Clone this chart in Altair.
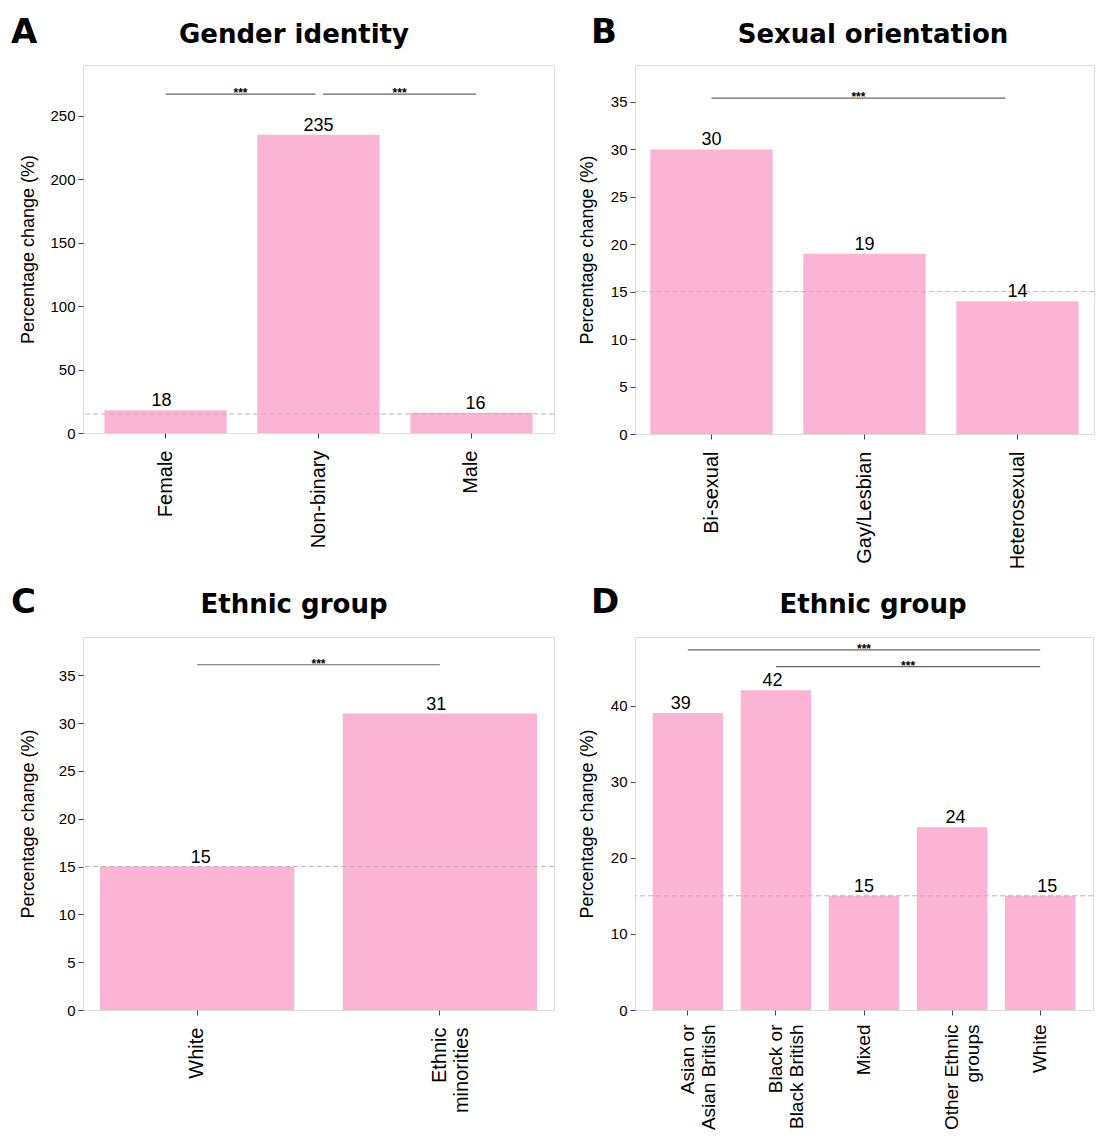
import altair as alt
import pandas as pd

PINK = "#fbb4d4"
FRAME = "#6e6e6e"
LABEL_FONT = "Liberation Sans"
TITLE_FONT = "DejaVu Sans"
REFERENCE = 15

# ---------------- data ----------------
a_title = "Gender identity"
a_cats = ["Female", "Non-binary", "Male"]
a_vals = [18, 235, 16]
a_br_start = [0.0, 1.03]
a_br_end = [0.98, 2.03]
a_br_y = [267, 267]
a_ticks = [0, 50, 100, 150, 200, 250]
a_ymax = 290

b_title = "Sexual orientation"
b_cats = ["Bi-sexual", "Gay/Lesbian", "Heterosexual"]
b_vals = [30, 19, 14]
b_br_start = [0.0]
b_br_end = [1.92]
b_br_y = [35.4]
b_ticks = [0, 5, 10, 15, 20, 25, 30, 35]
b_ymax = 38.9

c_title = "Ethnic group"
c_cats = ["White", "Ethnic\nminorities"]
c_vals = [15, 31]
c_br_start = [0.0]
c_br_end = [1.0]
c_br_y = [36.1]
c_ticks = [0, 5, 10, 15, 20, 25, 30, 35]
c_ymax = 39.0

d_title = "Ethnic group"
d_cats = ["Asian or\nAsian British", "Black or\nBlack British", "Mixed",
          "Other Ethnic\ngroups", "White"]
d_vals = [39, 42, 15, 24, 15]
d_br_start = [0.0, 1.0]
d_br_end = [4.0, 4.0]
d_br_y = [47.3, 45.1]
d_ticks = [0, 10, 20, 30, 40]
d_ymax = 49.0


def panel(letter, title, cats, vals, br_start, br_end, br_y, ticks, ymax,
          width, height, pad_outer, title_cx, head_y, letter_dx, extent,
          xfont=20, lab_pad=12):
    n = len(cats)
    bars_df = pd.DataFrame({"cat": cats, "val": vals})
    br_df = pd.DataFrame({"x1": br_start, "x2": br_end, "y": br_y})
    br_df["xm"] = (br_df["x1"] + br_df["x2"]) / 2
    br_df["stars"] = "***"
    ref_df = pd.DataFrame({"ref": [REFERENCE]})
    head_df = pd.DataFrame({"letter": [letter], "title": [title]})

    yscale = alt.Scale(domain=[0, ymax], nice=False, zero=True)
    band = alt.Scale(paddingInner=0.2, paddingOuter=pad_outer)
    lo = -(pad_outer + 0.4)
    hi = n - 1 + pad_outer + 0.4
    lin = alt.Scale(domain=[lo, hi], nice=False, zero=False)

    xaxis = alt.Axis(title=None, labelAngle=-90, labelFontSize=xfont,
                     labelFont=LABEL_FONT, labelColor="black",
                     labelExpr="split(datum.label, '\\n')",
                     labelLineHeight=xfont + 2,
                     tickSize=5, tickColor="#444", domain=False, grid=False,
                     labelPadding=lab_pad)
    yaxis = alt.Axis(title="Percentage change (%)", values=ticks, grid=False,
                     domain=False, labelFontSize=15, labelFont=LABEL_FONT,
                     labelColor="black", tickColor="#444", tickSize=5,
                     labelPadding=3, titleFont=LABEL_FONT, titleFontSize=18,
                     titleFontWeight="normal", titleColor="black",
                     titlePadding=5, minExtent=extent, maxExtent=extent)

    bars = alt.Chart(bars_df).mark_bar(color=PINK).encode(
        x=alt.X("cat:N", sort=cats, scale=band, axis=xaxis),
        y=alt.Y("val:Q", scale=yscale, axis=yaxis),
    )
    ref = alt.Chart(ref_df).mark_rule(
        color="#b8b8b8", strokeDash=[5, 3], strokeWidth=1
    ).encode(y=alt.Y("ref:Q", scale=yscale))
    labels = alt.Chart(bars_df).mark_text(
        font=LABEL_FONT, fontSize=18, color="black", baseline="alphabetic", dy=-4
    ).encode(
        x=alt.X("cat:N", sort=cats, scale=band, axis=None),
        y=alt.Y("val:Q", scale=yscale),
        text=alt.Text("val:Q"),
    )
    rules = alt.Chart(br_df).mark_rule(color="#666666", strokeWidth=1.2).encode(
        x=alt.X("x1:Q", scale=lin, axis=None),
        x2="x2:Q",
        y=alt.Y("y:Q", scale=yscale),
    )
    stars = alt.Chart(br_df).mark_text(
        font=LABEL_FONT, fontSize=12, fontWeight="bold", color="black",
        baseline="alphabetic", dy=3
    ).encode(
        x=alt.X("xm:Q", scale=lin, axis=None),
        y=alt.Y("y:Q", scale=yscale),
        text="stars:N",
    )
    let = alt.Chart(head_df).mark_text(
        font=TITLE_FONT, fontSize=34, fontWeight="bold", color="black",
        align="left", baseline="alphabetic"
    ).encode(x=alt.value(letter_dx), y=alt.value(head_y), text="letter:N")
    ttl = alt.Chart(head_df).mark_text(
        font=TITLE_FONT, fontSize=26, fontWeight="bold", color="black",
        align="center", baseline="alphabetic"
    ).encode(x=alt.value(title_cx), y=alt.value(head_y), text="title:N")

    return alt.layer(bars, ref, labels, rules, stars, let, ttl).resolve_scale(
        x="independent"
    ).properties(width=width, height=height)


A = panel("A", a_title, a_cats, a_vals, a_br_start, a_br_end, a_br_y, a_ticks,
          a_ymax, 471, 368, 0.14, 211, -22, -72, 41)
B = panel("B", b_title, b_cats, b_vals, b_br_start, b_br_end, b_br_y, b_ticks,
          b_ymax, 459, 369, 0.1, 238, -22, -44, 34)
C = panel("C", c_title, c_cats, c_vals, c_br_start, c_br_end, c_br_y, c_ticks,
          c_ymax, 471, 373, 0.07, 211, -24, -72, 41)
D = panel("D", d_title, d_cats, d_vals, d_br_start, d_br_end, d_br_y, d_ticks,
          d_ymax, 458, 373, 0.2, 238, -24, -44, 34, xfont=19, lab_pad=9)

chart = alt.vconcat(
    alt.hconcat(A, B, spacing=22),
    alt.hconcat(C, D, spacing=22),
    spacing=15,
).properties(
    padding={"left": 2, "top": 7, "right": 0, "bottom": 0}
).configure_view(stroke=FRAME, strokeWidth=1).configure(font=LABEL_FONT)

chart.save("out.html", embed_options={"renderer": "svg", "actions": False})
